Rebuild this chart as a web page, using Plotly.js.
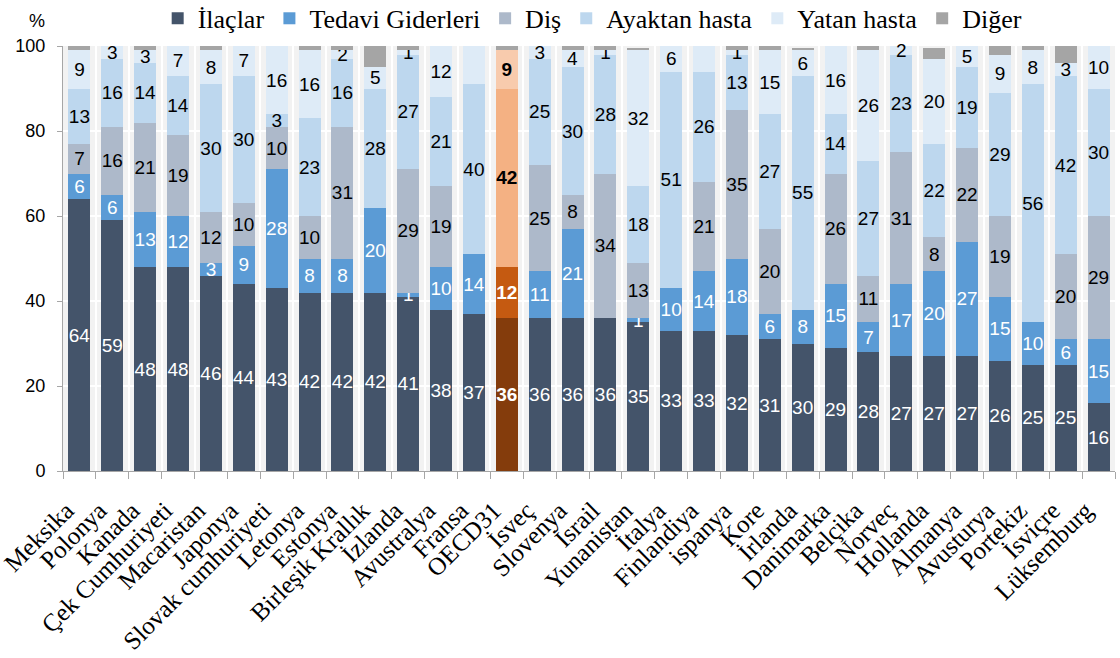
<!DOCTYPE html>
<html>
<head>
<meta charset="utf-8">
<script src="https://cdn.plot.ly/plotly-3.0.1.min.js"></script>
<style>html,body{margin:0;padding:0;background:#fff;}#chart{width:1120px;height:658px;}</style>
</head>
<body>
<div id="chart"></div>
<script>
const countries = ["Meksika","Polonya","Kanada","Çek Cumhuriyeti","Macaristan","Japonya","Slovak cumhuriyeti","Letonya","Estonya","Birleşik Krallık","İzlanda","Avustralya","Fransa","OECD31","İsveç","Slovenya","İsrail","Yunanistan","İtalya","Finlandiya","ispanya","Kore","İrlanda","Danimarka","Belçika","Norveç","Hollanda","Almanya","Avusturya","Portekiz","İsviçre","Lüksemburg"];
const ilaclar   = [64,59,48,48,46,44,43,42,42,42,41,38,37,36,36,36,36,35,33,33,32,31,30,29,28,27,27,27,26,25,25,16];
const tedavi    = [6,6,13,12,3,9,28,8,8,20,1,10,14,12,11,21,0,1,10,14,18,6,8,15,7,17,20,27,15,10,6,15];
const dis       = [7,16,21,19,12,10,10,10,31,0,29,19,0,0,25,8,34,13,0,21,35,20,0,26,11,31,8,22,19,0,20,29];
const ayaktan   = [13,16,14,14,30,30,3,23,16,28,27,21,40,42,25,30,28,18,51,26,13,27,55,14,27,23,22,19,29,56,42,30];
const yatan     = [9,3,3,7,8,7,16,16,2,5,1,12,10,9,3,4,1,32,6,7,1,15,6,16,26,2,20,5,9,8,3,10];
const diger     = [1,0,1.5,0,1,0.5,0,1.5,1,6,1,0.5,0,1,1,1,1,0.5,0.5,0,1,2,0.5,0,1,0.5,2.5,0.5,2.5,1,4,0];

const highlight = "OECD31";
const series = [
  {name:"İlaçlar", vals:ilaclar, color:"#44546A", hi:"#843C0C", txt:"#ffffff", label:true},
  {name:"Tedavi Giderleri", vals:tedavi, color:"#5B9BD5", hi:"#C55A11", txt:"#ffffff", label:true},
  {name:"Diş", vals:dis, color:"#ADB9CA", hi:"#F8CBAD", txt:"#000000", label:true},
  {name:"Ayaktan hasta", vals:ayaktan, color:"#BDD7EE", hi:"#F4B183", txt:"#000000", label:true},
  {name:"Yatan hasta", vals:yatan, color:"#DEEBF7", hi:"#F8CBAD", txt:"#000000", label:true},
  {name:"Diğer", vals:diger, color:"#A5A5A5", hi:"#A5A5A5", txt:"#000000", label:false}
];

const traces = series.map(s => ({
  type:"bar",
  name:s.name,
  x:countries,
  y:s.vals,
  marker:{
    color:countries.map(c => c===highlight ? s.hi : s.color),
    line:{width:0}
  },
  text:s.vals.map((v,i) => (!s.label || v<=0) ? "" : (countries[i]===highlight ? "<b>"+Math.round(v)+"</b>" : String(Math.round(v)))),
  textposition:"inside",
  insidetextanchor:"middle",
  constraintext:"none",
  textangle:0,
  textfont:{family:"Liberation Sans, Arial, sans-serif", size:19, color:s.txt},
  hoverinfo:"x+y+name",
  cliponaxis:false
}));

const layout = {
  width:1120, height:658,
  barmode:"stack",
  bargap:0.33,
  paper_bgcolor:"#ffffff",
  plot_bgcolor:"#F2F2F2",
  margin:{l:63, r:5, t:46, b:187, autoexpand:false},
  font:{family:"Liberation Sans, Arial, sans-serif", color:"#000"},
  showlegend:true,
  legend:{
    orientation:"h", x:0.09, xanchor:"left", y:1.065, yanchor:"middle",
    font:{family:"Liberation Serif, Times New Roman, serif", size:26, color:"#000"},
    traceorder:"normal", bgcolor:"rgba(0,0,0,0)", itemwidth:30, tracegroupgap:0
  },
  xaxis:{
    type:"category",
    tickson:"boundaries",
    showgrid:true, gridcolor:"#ffffff", gridwidth:2,
    ticks:"outside", ticklen:7, tickcolor:"#A6A6A6",
    showline:true, linecolor:"#A6A6A6", linewidth:1,
    tickangle:-45,
    ticklabelshift:-13,
    ticklabelstandoff:14,
    tickfont:{family:"Liberation Serif, Times New Roman, serif", size:25, color:"#000"}
  },
  yaxis:{
    range:[0,100], dtick:20, tick0:0,
    showgrid:true, gridcolor:"#ffffff", gridwidth:2,
    ticks:"outside", ticklen:5, tickcolor:"#A6A6A6",
    showline:true, linecolor:"#A6A6A6", linewidth:1,
    zeroline:false,
    ticklabelstandoff:8,
    tickfont:{family:"Liberation Sans, Arial, sans-serif", size:18, color:"#000"}
  },
  annotations:[
    {text:"%", xref:"paper", yref:"paper", x:-0.034, y:1.059, xanchor:"left", yanchor:"middle", showarrow:false,
     font:{family:"Liberation Sans, Arial, sans-serif", size:18, color:"#000"}}
  ]
};

Plotly.newPlot("chart", traces, layout, {displayModeBar:false, responsive:false});
</script>
</body>
</html>
